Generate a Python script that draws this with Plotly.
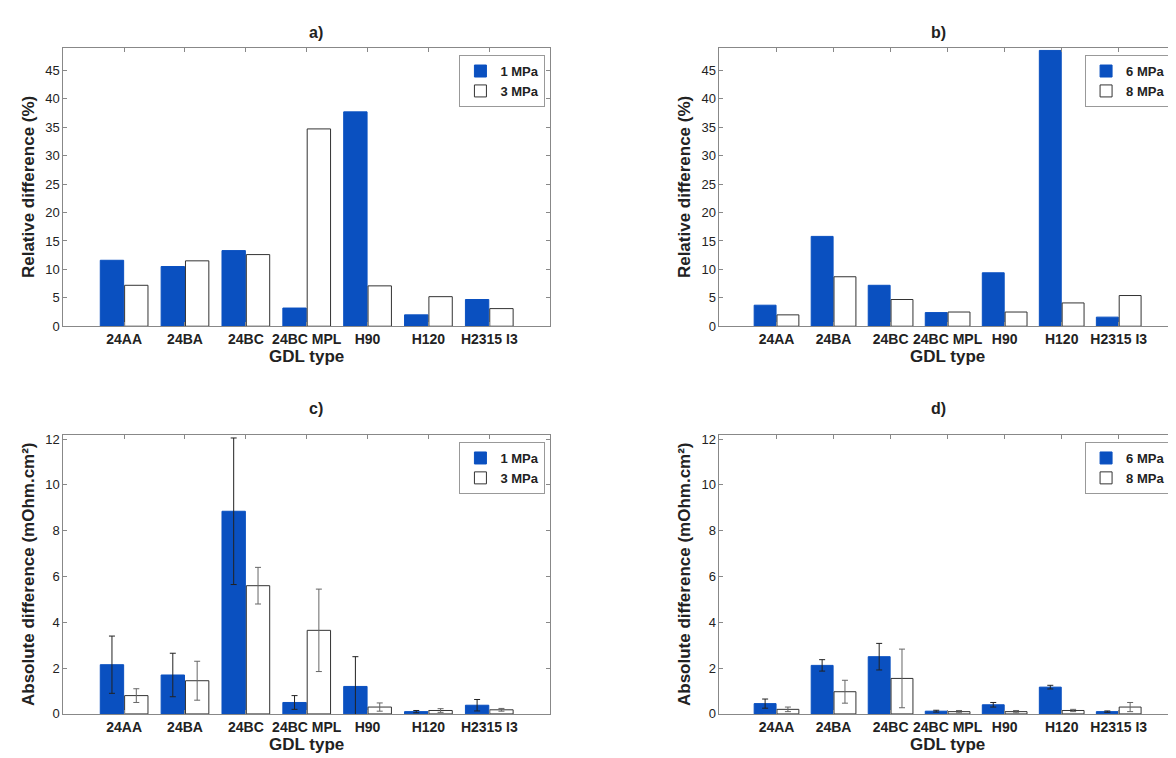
import plotly.graph_objects as go

cats = ["24AA", "24BA", "24BC", "24BC MPL", "H90", "H120", "H2315 I3"]
a_1 = [11.6, 10.5, 13.3, 3.2, 37.7, 2.0, 4.7]
a_3 = [7.2, 11.5, 12.6, 34.7, 7.1, 5.2, 3.1]
b_6 = [3.7, 15.8, 7.2, 2.4, 9.4, 48.5, 1.6]
b_8 = [2.0, 8.7, 4.7, 2.5, 2.5, 4.1, 5.4]
c_1 = [2.15, 1.7, 8.85, 0.5, 1.2, 0.1, 0.38]
c_1_err = [1.25, 0.95, 3.2, 0.3, 1.3, 0.05, 0.25]
c_3 = [0.8, 1.45, 5.6, 3.65, 0.3, 0.15, 0.18]
c_3_err = [0.3, 0.85, 0.8, 1.8, 0.18, 0.08, 0.06]
d_6 = [0.45, 2.12, 2.5, 0.12, 0.4, 1.17, 0.1]
d_6_err = [0.2, 0.25, 0.58, 0.04, 0.1, 0.08, 0.03]
d_8 = [0.2, 0.97, 1.55, 0.1, 0.1, 0.15, 0.3]
d_8_err = [0.1, 0.5, 1.28, 0.05, 0.05, 0.05, 0.2]

xpos = list(range(1, len(cats) + 1))
BLUE = "#0a50c0"
FONT = "Liberation Sans"

fig = go.Figure()
panels = [
    ("x", "y", "legend", a_1, None, a_3, None, "1 MPa", "3 MPa"),
    ("x2", "y2", "legend2", b_6, None, b_8, None, "6 MPa", "8 MPa"),
    ("x3", "y3", "legend3", c_1, c_1_err, c_3, c_3_err, "1 MPa", "3 MPa"),
    ("x4", "y4", "legend4", d_6, d_6_err, d_8, d_8_err, "6 MPa", "8 MPa"),
]
for xa, ya, lg, v1, e1, v2, e2, n1, n2 in panels:
    for vals, err, name, fill, ecol in [(v1, e1, n1, BLUE, "#222"), (v2, e2, n2, "white", "#666")]:
        fig.add_trace(go.Bar(
            x=xpos, y=vals, name=name, xaxis=xa, yaxis=ya, legend=lg,
            marker=dict(color=fill, line=dict(color="#333" if fill == "white" else BLUE, width=1)),
            error_y=dict(type="data", array=err, visible=err is not None, color=ecol, thickness=1, width=3),
        ))

xd = [[0.047, 0.461], [0.605, 0.993]]
yd = [[0.578, 0.951], [0.059, 0.433]]
ax_common = dict(showline=True, mirror="ticks", linecolor="#888", linewidth=1, ticks="inside",
                 ticklen=4, tickcolor="#888", showgrid=False, zeroline=False,
                 tickfont=dict(family=FONT, size=13, color="#222"))
layout = dict(width=1176, height=758, margin=dict(l=0, r=0, t=0, b=0),
              plot_bgcolor="white", paper_bgcolor="white", barmode="group",
              bargap=0.2, bargroupgap=0.04, font=dict(family=FONT, color="#222"))
names = ["", "2", "3", "4"]
yranges = [[0, 49], [0, 49], [0, 12.2], [0, 12.2]]
ytitles = ["Relative difference (%)", "Relative difference (%)",
           "Absolute difference (mOhm.cm²)", "Absolute difference (mOhm.cm²)"]
dtick = [5, 5, 2, 2]
for i, n in enumerate(names):
    col = i % 2
    row = i // 2
    layout["xaxis" + n] = dict(ax_common, domain=xd[col], anchor="y" + n, range=[0, 8],
                               tickvals=xpos, ticktext=cats,
                               tickfont=dict(family=FONT, size=14, color="#222", weight="bold"),
                               title=dict(text="<b>GDL type</b>", standoff=2,
                                          font=dict(family=FONT, size=17)))
    layout["yaxis" + n] = dict(ax_common, domain=yd[row], anchor="x" + n, range=yranges[i],
                               dtick=dtick[i],
                               title=dict(text="<b>" + ytitles[i] + "</b>", standoff=6,
                                          font=dict(family=FONT, size=17)))
    layout["legend" + n if n else "legend"] = dict(
        x=xd[col][1] - 0.004, y=yd[row][1] - 0.01, xanchor="right", yanchor="top",
        bgcolor="white", bordercolor="#999", borderwidth=1,
        font=dict(family=FONT, size=13, color="#222", weight="bold"),
        tracegroupgap=0, itemwidth=30)
fig.update_layout(**layout)
for t, xc, yc in [("a)", 0.254, 0.985), ("b)", 0.799, 0.985), ("c)", 0.254, 0.468), ("d)", 0.799, 0.468)]:
    fig.add_annotation(text="<b>" + t + "</b>", x=xc, y=yc, xref="paper", yref="paper",
                       showarrow=False, font=dict(family=FONT, size=16, color="#222"))
fig.write_html("out.html")
